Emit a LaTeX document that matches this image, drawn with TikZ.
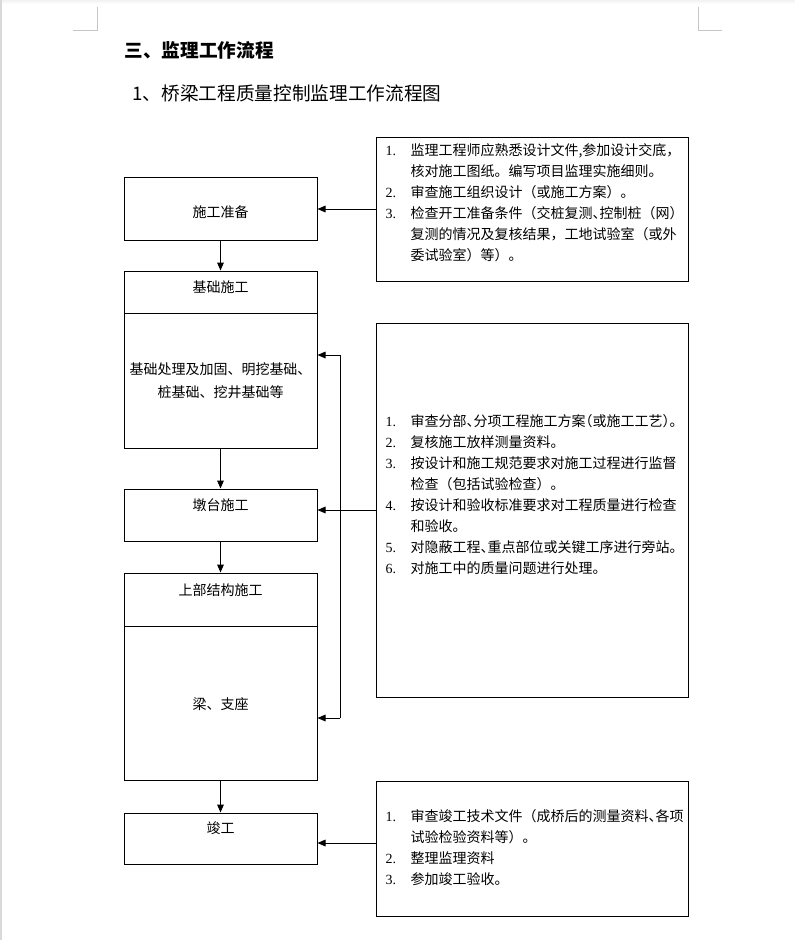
\documentclass[tikz,border=0pt]{standalone}
\usepackage{fontspec}
\setmainfont{Noto Sans CJK SC}
\newfontfamily\numfont{Liberation Serif}
\usetikzlibrary{arrows.meta}
\newcommand{\lstno}[1]{\makebox[18.75pt][l]{\numfont #1.}}
\newcommand{\lstind}{\hspace*{18.75pt}}
\newcommand{\hw}[1]{{\addfontfeatures{RawFeature=+halt}#1}}
\begin{document}
\begin{tikzpicture}[x=0.75pt, y=-0.75pt, line width=0.75pt,
  font=\fontsize{10.5pt}{15.75pt}\selectfont,
  flowbox/.style={draw, minimum width=193*0.75pt, inner sep=0pt, align=center},
  notebox/.style={draw, minimum width=312*0.75pt, inner sep=0pt},
  notetext/.style={anchor=west, inner sep=0pt, align=left, text width=294*0.75pt},
  ttl/.style={inner sep=0pt},
  arr/.style={-{Triangle[length=6pt,width=5pt]}},
  cornermark/.style={draw=gray!45, line width=0.75pt}]
\useasboundingbox (0,0) rectangle (795,940);
\fill[white] (0,0) rectangle (795,940);
% page edge and corner marks
\fill[top color=gray!10, bottom color=white] (0,0) rectangle (795,4);
\fill[gray!30] (0,0) rectangle (2,940);
\draw[cornermark] (73,30) -- (97,30) -- (97,7);
\draw[cornermark] (722,30) -- (698,30) -- (698,7);
\node[anchor=west, inner sep=0pt, font=\fontsize{14pt}{16pt}\selectfont\bfseries] (head) at (124,50) {三、监理工作流程};
\node[anchor=west, inner sep=0pt, font=\fontsize{14pt}{16pt}\selectfont] (subhead) at (132,93) {1、桥梁工程质量控制监理工作流程图};
% left column
\foreach \n/\yc/\h in {prep/208.5/63, found/292/42, foundB/380.5/135, pier/515/52, sup/599.5/53, supB/703/154, done/838.5/51} {
  \node[flowbox, minimum height=\h*0.75pt] (\n) at (220.5,\yc) {};
}
\node[ttl] (prepT) at (220.5,212) {施工准备};
\node[ttl] (foundT) at (220.5,287) {基础施工};
\node[ttl, align=center, font=\fontsize{10.5pt}{17.25pt}\selectfont] (foundBT) at (220.5,380.5) {基础处理及加固、明挖基础、\\桩基础、挖井基础等};
\node[ttl] (pierT) at (220.5,505) {墩台施工};
\node[ttl] (supT) at (220.5,590) {上部结构施工};
\node[ttl] (supBT) at (220.5,704) {梁、支座};
\node[ttl] (doneT) at (220.5,828) {竣工};
\foreach \a/\b in {prep/found, foundB/pier, pier/sup, supB/done} {
  \draw[arr] (\a) -- (\b);
}
% right column
\node[notebox, minimum height=144*0.75pt] (req1) at (532,209) {};
\node[notebox, minimum height=374*0.75pt] (req2) at (532,510) {};
\node[notebox, minimum height=135*0.75pt] (req3) at (532,848.5) {};
\node[notetext] (req1T) at (385,203) {\lstno{1}监理工程师应熟悉设计文件,参加设计交底，\\
\lstind 核对施工图纸。编写项目监理实施细则。\\
\lstno{2}审查施工组织设计（或施工方案）。\\
\lstno{3}检查开工准备条件（交桩复测\hw{、}控制桩（网）\\
\lstind 复测的情况及复核结果，工地试验室（或外\\
\lstind 委试验室）等）。};
\node[notetext] (req2T) at (385,494.5) {\lstno{1}审查分部\hw{、}分项工程施工方案\hw{（}或施工工艺\hw{）}。\\
\lstno{2}复核施工放样测量资料。\\
\lstno{3}按设计和施工规范要求对施工过程进行监督\\
\lstind 检查（包括试验检查）。\\
\lstno{4}按设计和验收标准要求对工程质量进行检查\\
\lstind 和验收。\\
\lstno{5}对隐蔽工程\hw{、}重点部位或关键工序进行旁站。\\
\lstno{6}对施工中的质量问题进行处理。};
\node[notetext] (req3T) at (385,847.5) {\lstno{1}审查竣工技术文件（成桥后的测量资料\hw{、}各项\\
\lstind 试验检验资料等）。\\
\lstno{2}整理监理资料\\
\lstno{3}参加竣工验收。};
% notes feed the steps
\draw[arr] (req1.west) -- (req1.west -| prep.east);
\draw[arr] (req2.west) -- (req2.west -| pier.east);
\coordinate (c3) at (376,843);
\draw[arr] (c3) -- (c3 -| done.east);
% bracket for foundation and superstructure
\coordinate (bt) at (340,355);
\coordinate (bb) at (340,718);
\draw[arr] (bb) -- (bt) -- (bt -| foundB.east);
\draw[arr] (bb) -- (bb -| supB.east);
\end{tikzpicture}
\end{document}
